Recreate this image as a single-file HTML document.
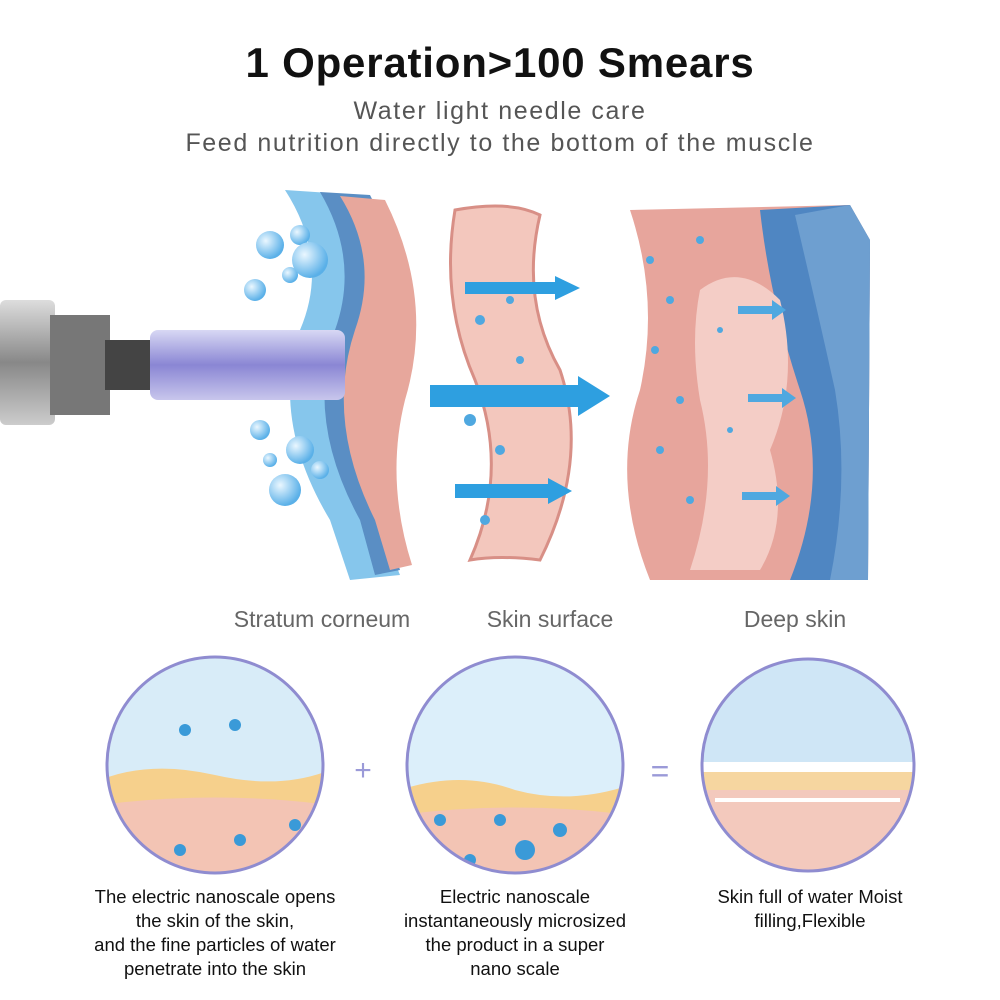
<!DOCTYPE html>
<html><head><meta charset="utf-8"><style>
html,body{margin:0;padding:0;background:#fff;}
body{width:1000px;height:1000px;position:relative;overflow:hidden;font-family:"Liberation Sans",sans-serif;}
.t{position:absolute;left:0;width:1000px;text-align:center;}
.lab{position:absolute;color:#666;font-size:23px;text-align:center;}
.cap{position:absolute;color:#111;font-size:18.5px;text-align:center;line-height:24px;}
</style></head><body>
<div class="t" style="top:39px;font-size:42px;font-weight:bold;color:#111;letter-spacing:0.8px">1 Operation&gt;100 Smears</div>
<div class="t" style="top:97px;font-size:25px;color:#555;letter-spacing:1.6px">Water light needle care</div>
<div class="t" style="top:129px;font-size:25px;color:#555;letter-spacing:1.6px">Feed nutrition directly to the bottom of the muscle</div>

<svg width="1000" height="1000" style="position:absolute;left:0;top:0" xmlns="http://www.w3.org/2000/svg">
<defs>
<radialGradient id="bub" cx="35%" cy="35%" r="65%"><stop offset="0" stop-color="#eaf7ff"/><stop offset="1" stop-color="#5ab0e8"/></radialGradient>
<linearGradient id="pen" x1="0" y1="0" x2="0" y2="1"><stop offset="0" stop-color="#ddd"/><stop offset=".5" stop-color="#888"/><stop offset="1" stop-color="#ccc"/></linearGradient>
<linearGradient id="cap" x1="0" y1="0" x2="0" y2="1"><stop offset="0" stop-color="#d8d8f4"/><stop offset=".5" stop-color="#8a86d4"/><stop offset="1" stop-color="#c8c6ec"/></linearGradient>
<clipPath id="c1"><circle cx="215" cy="765" r="108"/></clipPath>
<clipPath id="c2"><circle cx="515" cy="765" r="108"/></clipPath>
<clipPath id="c3"><circle cx="808" cy="765" r="106"/></clipPath>
</defs>
<path d="M285 190 Q330 260 300 330 Q270 420 330 520 L350 580 L400 575 Q360 480 390 400 Q420 300 360 195 Z" fill="#86c6ec"/>
<path d="M320 192 Q360 260 335 330 Q305 420 360 520 L375 575 L400 570 Q370 480 395 400 Q425 300 370 195 Z" fill="#5a8ec4"/>
<path d="M340 196 Q380 260 355 330 Q325 420 375 520 L390 570 L412 565 Q385 480 405 400 Q435 300 385 200 Z" fill="#e7a79c"/>
<g fill="url(#bub)">
<circle cx="270" cy="245" r="14"/><circle cx="300" cy="235" r="10"/><circle cx="255" cy="290" r="11"/><circle cx="290" cy="275" r="8"/>
<circle cx="310" cy="260" r="18"/><circle cx="260" cy="430" r="10"/><circle cx="300" cy="450" r="14"/><circle cx="285" cy="490" r="16"/><circle cx="320" cy="470" r="9"/><circle cx="270" cy="460" r="7"/>
</g>
<rect x="0" y="300" width="55" height="125" rx="6" fill="url(#pen)"/>
<rect x="50" y="315" width="60" height="100" fill="#777"/>
<rect x="105" y="340" width="50" height="50" fill="#444"/>
<rect x="150" y="330" width="195" height="70" rx="8" fill="url(#cap)"/>
<path d="M455 210 Q510 200 540 215 Q520 300 560 370 Q590 460 540 560 Q500 555 470 560 Q510 470 475 380 Q440 300 455 210 Z" fill="#f3c7bd" stroke="#d88f86" stroke-width="3"/>
<g fill="#4fa8e0">
<circle cx="480" cy="320" r="5"/><circle cx="510" cy="300" r="4"/><circle cx="470" cy="420" r="6"/><circle cx="500" cy="450" r="5"/><circle cx="520" cy="360" r="4"/><circle cx="485" cy="520" r="5"/>
</g>
<g fill="#2e9fe0">
<rect x="465" y="282" width="90" height="12"/><polygon points="555,276 580,288 555,300"/>
<rect x="430" y="385" width="150" height="22"/><polygon points="578,376 610,396 578,416"/>
<rect x="455" y="484" width="95" height="14"/><polygon points="548,478 572,491 548,504"/>
</g>
<path d="M630 210 L850 205 L870 240 L868 580 L650 580 Q610 480 640 390 Q660 300 630 210 Z" fill="#e7a59c"/>
<path d="M760 210 L850 205 L870 240 L868 580 L790 580 Q830 480 800 390 Q770 300 760 210 Z" fill="#4f86c2"/>
<path d="M795 215 L850 205 L870 240 L868 580 L830 580 Q850 480 835 390 Q815 300 795 215 Z" fill="#6e9fd0"/>
<path d="M700 290 Q740 260 780 300 Q800 380 770 450 Q790 520 760 570 L690 570 Q720 480 700 400 Q690 340 700 290Z" fill="#f4cdc6"/>
<g fill="#4fa8e0">
<circle cx="650" cy="260" r="4"/><circle cx="670" cy="300" r="4"/><circle cx="655" cy="350" r="4"/><circle cx="680" cy="400" r="4"/><circle cx="660" cy="450" r="4"/><circle cx="690" cy="500" r="4"/><circle cx="700" cy="240" r="4"/><circle cx="720" cy="330" r="3"/><circle cx="730" cy="430" r="3"/>
<rect x="738" y="306" width="35" height="8"/><polygon points="772,300 786,310 772,320"/>
<rect x="748" y="394" width="35" height="8"/><polygon points="782,388 796,398 782,408"/>
<rect x="742" y="492" width="35" height="8"/><polygon points="776,486 790,496 776,506"/>
</g>
<g clip-path="url(#c1)">
<rect x="100" y="650" width="240" height="240" fill="#d8ecf8"/>
<path d="M100 780 Q150 760 215 775 Q280 790 330 770 L330 900 L100 900Z" fill="#f6d08c"/>
<path d="M100 805 Q215 790 330 805 L330 900 L100 900Z" fill="#f3c4b4"/>
<g fill="#3a9ad8"><circle cx="185" cy="730" r="6"/><circle cx="235" cy="725" r="6"/><circle cx="180" cy="850" r="6"/><circle cx="240" cy="840" r="6"/><circle cx="295" cy="825" r="6"/></g>
</g>
<circle cx="215" cy="765" r="108" fill="none" stroke="#8f8cd0" stroke-width="3"/>
<g clip-path="url(#c2)">
<rect x="400" y="650" width="240" height="240" fill="#dceffa"/>
<path d="M400 790 Q460 770 515 790 Q570 805 630 785 L630 900 L400 900Z" fill="#f6d08c"/>
<path d="M400 815 Q515 800 630 815 L630 900 L400 900Z" fill="#f3c4b4"/>
<g fill="#3a9ad8"><circle cx="440" cy="820" r="6"/><circle cx="525" cy="850" r="10"/><circle cx="560" cy="830" r="7"/><circle cx="470" cy="860" r="6"/><circle cx="500" cy="820" r="6"/><circle cx="595" cy="845" r="6"/></g>
</g>
<circle cx="515" cy="765" r="108" fill="none" stroke="#8f8cd0" stroke-width="3"/>
<g clip-path="url(#c3)">
<rect x="700" y="655" width="220" height="220" fill="#f3c9bd"/>
<rect x="700" y="655" width="220" height="110" fill="#cfe6f6"/>
<rect x="700" y="762" width="220" height="10" fill="#ffffff"/>
<rect x="700" y="772" width="220" height="18" fill="#f6d6a0"/>
<rect x="715" y="798" width="185" height="4" fill="#fff"/>
</g>
<circle cx="808" cy="765" r="106" fill="none" stroke="#8f8cd0" stroke-width="3"/>
<text x="363" y="780" font-size="30" fill="#9b9ad8" text-anchor="middle" font-family="Liberation Sans, sans-serif">+</text>
<text x="660" y="782" font-size="32" fill="#9b9ad8" text-anchor="middle" font-family="Liberation Sans, sans-serif">=</text>
</svg>

<div class="lab" style="left:212px;width:220px;top:606px">Stratum corneum</div>
<div class="lab" style="left:455px;width:190px;top:606px">Skin surface</div>
<div class="lab" style="left:715px;width:160px;top:606px">Deep skin</div>

<div class="cap" style="left:50px;width:330px;top:885px">The electric nanoscale opens<br>the skin of the skin,<br>and the fine particles of water<br>penetrate into the skin</div>
<div class="cap" style="left:370px;width:290px;top:885px">Electric nanoscale<br>instantaneously microsized<br>the product in a super<br>nano scale</div>
<div class="cap" style="left:680px;width:260px;top:885px">Skin full of water Moist<br>filling,Flexible</div>
</body></html>
